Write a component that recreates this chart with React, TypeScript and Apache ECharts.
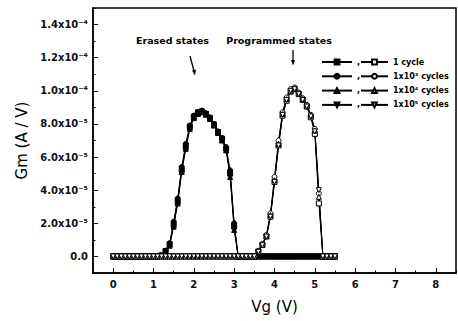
import React, { useEffect, useRef } from "react";
import * as echarts from "echarts";

// Gate voltage (V)
const vg = [
  0, 0.1, 0.2, 0.3, 0.4, 0.5, 0.6, 0.7, 0.8, 0.9,
  1.0, 1.1, 1.2, 1.3, 1.4, 1.5, 1.6, 1.7, 1.8, 1.9,
  2.0, 2.1, 2.2, 2.3, 2.4, 2.5, 2.6, 2.7, 2.8, 2.9,
  3.0, 3.1, 3.2, 3.3, 3.4, 3.5, 3.6, 3.7, 3.8, 3.9,
  4.0, 4.1, 4.2, 4.3, 4.4, 4.5, 4.6, 4.7, 4.8, 4.9,
  5.0, 5.1, 5.2, 5.3, 5.4, 5.5,
];

// Gm in units of 1e-5 A/V — erased states (filled markers)
const erased1 = [
  0, 0, 0, 0, 0, 0, 0, 0, 0, 0, 0, 0,
  0.05, 0.3, 0.7, 1.9, 3.3, 5.2, 6.6, 7.8, 8.4, 8.65, 8.75, 8.6, 8.35, 7.95, 7.5, 7.1, 6.5, 5.0, 1.8, 0,
  0, 0, 0, 0, 0, 0, 0, 0, 0, 0, 0, 0, 0, 0, 0, 0, 0, 0, 0, 0, 0, 0, 0, 0,
];
const erased1e3 = [
  0, 0, 0, 0, 0, 0, 0, 0, 0, 0, 0, 0,
  0.05, 0.35, 0.8, 2.1, 3.5, 5.4, 6.8, 7.9, 8.5, 8.7, 8.8, 8.65, 8.4, 8.0, 7.55, 7.15, 6.6, 5.2, 2.0, 0,
  0, 0, 0, 0, 0, 0, 0, 0, 0, 0, 0, 0, 0, 0, 0, 0, 0, 0, 0, 0, 0, 0, 0, 0,
];
const erased1e4 = [
  0, 0, 0, 0, 0, 0, 0, 0, 0, 0, 0, 0,
  0.04, 0.28, 0.65, 1.8, 3.2, 5.1, 6.5, 7.7, 8.35, 8.6, 8.7, 8.55, 8.3, 7.9, 7.45, 7.0, 6.4, 4.8, 1.6, 0,
  0, 0, 0, 0, 0, 0, 0, 0, 0, 0, 0, 0, 0, 0, 0, 0, 0, 0, 0, 0, 0, 0, 0, 0,
];
const erased1e5 = [
  0, 0, 0, 0, 0, 0, 0, 0, 0, 0, 0, 0,
  0.06, 0.32, 0.75, 2.0, 3.4, 5.3, 6.7, 7.85, 8.45, 8.7, 8.75, 8.6, 8.35, 7.95, 7.5, 7.1, 6.5, 5.0, 1.9, 0,
  0, 0, 0, 0, 0, 0, 0, 0, 0, 0, 0, 0, 0, 0, 0, 0, 0, 0, 0, 0, 0, 0, 0, 0,
];

// Gm in units of 1e-5 A/V — programmed states (open markers)
const prog1 = [
  0, 0, 0, 0, 0, 0, 0, 0, 0, 0, 0, 0, 0, 0, 0, 0, 0, 0,
  0, 0, 0, 0, 0, 0, 0, 0, 0, 0, 0, 0, 0, 0, 0, 0, 0, 0,
  0.3, 0.7, 1.2, 2.4, 4.5, 6.7, 8.5, 9.4, 9.95, 10.1, 9.8, 9.45, 9.05, 8.4, 7.4, 3.2, 0,
  0, 0, 0,
];
const prog1e3 = [
  0, 0, 0, 0, 0, 0, 0, 0, 0, 0, 0, 0, 0, 0, 0, 0, 0, 0,
  0, 0, 0, 0, 0, 0, 0, 0, 0, 0, 0, 0, 0, 0, 0, 0, 0, 0,
  0.32, 0.75, 1.3, 2.6, 4.8, 7.0, 8.7, 9.6, 10.1, 10.2, 9.9, 9.55, 9.15, 8.55, 7.7, 3.8, 0,
  0, 0, 0,
];
const prog1e4 = [
  0, 0, 0, 0, 0, 0, 0, 0, 0, 0, 0, 0, 0, 0, 0, 0, 0, 0,
  0, 0, 0, 0, 0, 0, 0, 0, 0, 0, 0, 0, 0, 0, 0, 0, 0, 0,
  0.3, 0.7, 1.25, 2.5, 4.6, 6.8, 8.6, 9.5, 10.0, 10.15, 9.85, 9.5, 9.1, 8.5, 7.6, 3.6, 0,
  0, 0, 0,
];
const prog1e5 = [
  0, 0, 0, 0, 0, 0, 0, 0, 0, 0, 0, 0, 0, 0, 0, 0, 0, 0,
  0, 0, 0, 0, 0, 0, 0, 0, 0, 0, 0, 0, 0, 0, 0, 0, 0, 0,
  0.28, 0.68, 1.2, 2.4, 4.5, 6.7, 8.55, 9.45, 10.0, 10.1, 9.8, 9.45, 9.05, 8.45, 7.55, 4.0, 0,
  0, 0, 0,
];

const cycleLabels = ["1 cycle", "1x10³ cycles", "1x10⁴ cycles", "1x10⁵ cycles"];
const erasedNames = ["E 1 cycle", "E 1x10³ cycles", "E 1x10⁴ cycles", "E 1x10⁵ cycles"];
const markerSymbols = ["rect", "circle", "triangle", "path://M0,0L10,0L5,9Z"];

const yTickValues = [0, 2, 4, 6, 8, 10, 12, 14];
const yTickLabels = ["0.0", "2.0x10⁻⁵", "4.0x10⁻⁵", "6.0x10⁻⁵", "8.0x10⁻⁵", "1.0x10⁻⁴", "1.2x10⁻⁴", "1.4x10⁻⁴"];
const xTickValues = [0, 1, 2, 3, 4, 5, 6, 7, 8];

const FONT = "DejaVu Sans";

export default function App() {
  const ref = useRef<HTMLDivElement>(null);
  useEffect(() => {
    if (!ref.current) return;
    const chart = echarts.init(ref.current, undefined, { renderer: "svg" });
    const erasedSets = [erased1, erased1e3, erased1e4, erased1e5];
    const progSets = [prog1, prog1e3, prog1e4, prog1e5];

    const mk = (name: string, vals: number[], i: number, open: boolean) => ({
      type: "line",
      name,
      xAxisIndex: 0,
      yAxisIndex: 0,
      data: vg.map((x, j) => [x, vals[j]]),
      symbol: markerSymbols[i],
      symbolSize: 5,
      showAllSymbol: true,
      lineStyle: { color: "#000", width: 1 },
      itemStyle: { color: open ? "#fff" : "#000", borderColor: "#000", borderWidth: 1 },
      emphasis: { disabled: true },
      z: open ? 3 : 2,
    });

    const series = [
      ...erasedSets.map((v, i) => mk(erasedNames[i], v, i, false)),
      ...progSets.map((v, i) => mk(cycleLabels[i], v, i, true)),
    ];

    const legendText = { fontFamily: FONT, fontSize: 8, fontWeight: "bold", color: "#000", lineHeight: 10 };

    chart.setOption({
      animation: false,
      backgroundColor: "#fff",
      grid: { left: 93, top: 8, right: 2, bottom: 48, show: true, borderColor: "#000", borderWidth: 1.5 },
      xAxis: [
        {
          type: "value",
          min: -0.5,
          max: 8.5,
          interval: 0.5,
          name: "Vg (V)",
          nameLocation: "middle",
          nameGap: 26,
          nameTextStyle: { fontFamily: FONT, fontSize: 15, color: "#000" },
          axisLine: { onZero: false, lineStyle: { color: "#000", width: 1.5 } },
          axisTick: { inside: true, length: 5, customValues: xTickValues, lineStyle: { color: "#000" } },
          axisLabel: {
            customValues: xTickValues,
            formatter: (v: number) => (Number.isInteger(v) && v >= 0 ? String(v) : ""),
            fontFamily: FONT,
            fontSize: 10,
            fontWeight: "bold",
            color: "#111",
            margin: 6,
          },
          splitLine: { show: false },
        },
        {
          type: "value",
          min: -0.5,
          max: 8.5,
          interval: 0.5,
          position: "bottom",
          axisLine: { show: false, onZero: false },
          axisTick: { inside: true, length: 2.5, lineStyle: { color: "#000" } },
          axisLabel: { show: false },
          splitLine: { show: false },
        },
      ],
      yAxis: [
        {
          type: "value",
          min: -1,
          max: 15,
          interval: 1,
          name: "Gm (A / V)",
          nameLocation: "middle",
          nameGap: 64,
          nameRotate: 90,
          nameTextStyle: { fontFamily: FONT, fontSize: 15, color: "#000" },
          axisLine: { onZero: false, lineStyle: { color: "#000", width: 1.5 } },
          axisTick: { inside: true, length: 5, customValues: yTickValues, lineStyle: { color: "#000" } },
          axisLabel: {
            customValues: yTickValues,
            formatter: (v: number) => {
              const k = yTickValues.indexOf(v);
              return k >= 0 ? yTickLabels[k] : "";
            },
            fontFamily: FONT,
            fontSize: 10,
            fontWeight: "bold",
            color: "#111",
            margin: 5,
          },
          splitLine: { show: false },
        },
        {
          type: "value",
          min: -1,
          max: 15,
          interval: 1,
          position: "left",
          axisLine: { show: false, onZero: false },
          axisTick: { inside: true, length: 2.5, lineStyle: { color: "#000" } },
          axisLabel: { show: false },
          splitLine: { show: false },
        },
      ],
      legend: [
        {
          data: erasedNames,
          orient: "vertical",
          left: 321,
          top: 57,
          itemWidth: 30,
          itemHeight: 6,
          itemGap: 4.3,
          padding: 0,
          selectedMode: false,
          formatter: () => ",",
          textStyle: legendText,
        },
        {
          data: cycleLabels,
          orient: "vertical",
          left: 360,
          top: 57,
          itemWidth: 27,
          itemHeight: 6,
          itemGap: 4.3,
          padding: 0,
          selectedMode: false,
          textStyle: legendText,
        },
      ],
      graphic: [
        {
          type: "text",
          x: 172.5,
          y: 40,
          style: { text: "Erased states", fontFamily: FONT, fontSize: 9.5, fontWeight: "bold", fill: "#000", align: "center", verticalAlign: "middle" },
        },
        {
          type: "text",
          x: 279,
          y: 40,
          style: { text: "Programmed states", fontFamily: FONT, fontSize: 9.5, fontWeight: "bold", fill: "#000", align: "center", verticalAlign: "middle" },
        },
        { type: "line", shape: { x1: 190, y1: 56, x2: 194, y2: 71 }, style: { stroke: "#000", lineWidth: 1.3 } },
        { type: "polygon", shape: { points: [[195, 75.5], [196, 69.5], [192, 70.5]] }, style: { fill: "#000" } },
        { type: "line", shape: { x1: 293, y1: 50, x2: 293, y2: 61 }, style: { stroke: "#000", lineWidth: 1.3 } },
        { type: "polygon", shape: { points: [[293, 65.5], [291, 60], [295, 60]] }, style: { fill: "#000" } },
      ],
      series,
    });
    return () => chart.dispose();
  }, []);
  return <div ref={ref} style={{ width: 458, height: 321, position: "absolute", left: 0, top: 0 }} />;
}
